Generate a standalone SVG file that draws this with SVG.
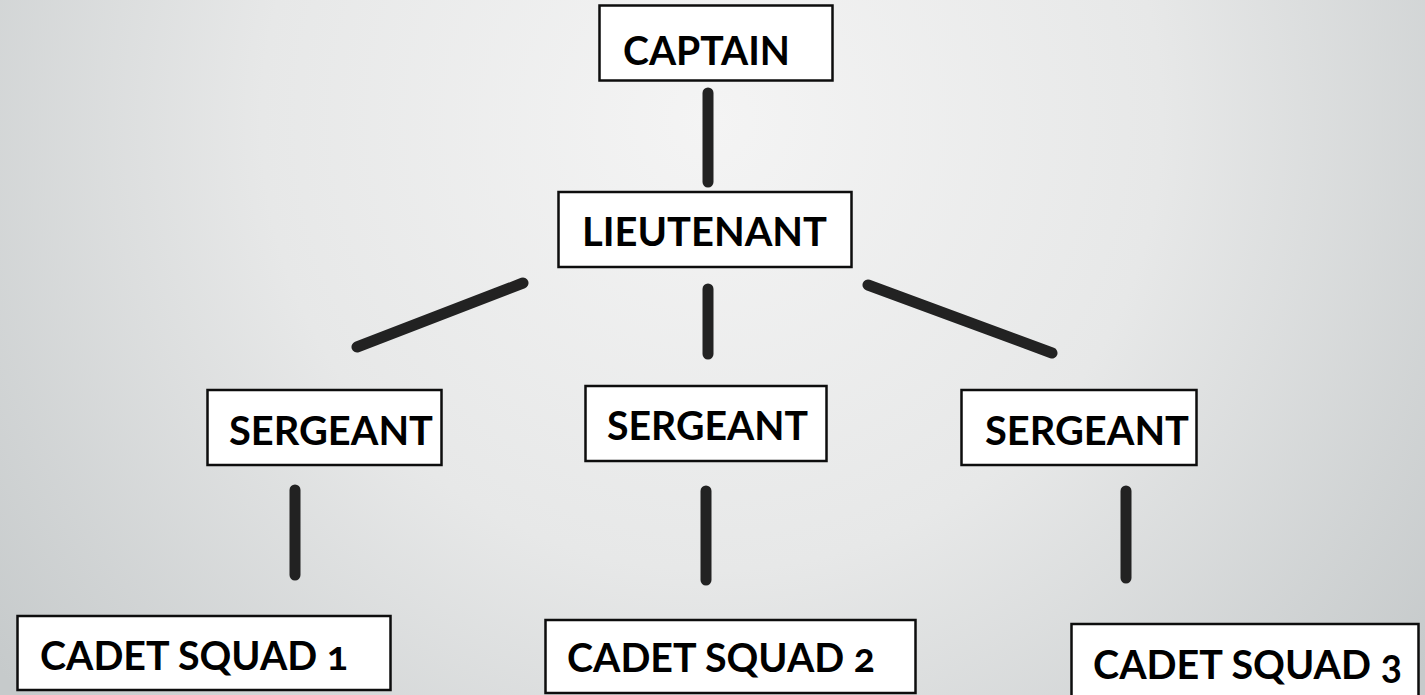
<svg xmlns="http://www.w3.org/2000/svg" width="1425" height="695" viewBox="0 0 1425 695">
<defs>
<radialGradient id="bg" gradientUnits="userSpaceOnUse" cx="712" cy="120" r="900" fx="712" fy="120">
<stop offset="0" stop-color="#f4f4f4"/>
<stop offset="0.5" stop-color="#e7e8e8"/>
<stop offset="1" stop-color="#c6cacb"/>
</radialGradient>
<style>
.box{fill:#ffffff;stroke:#0d0d0d;stroke-width:2.5}
.lbl{font-family:"Lato","Open Sans","Liberation Sans",sans-serif;font-weight:bold;font-size:40px;fill:#000;font-variant-numeric:oldstyle-nums}
.con{stroke:#222222;stroke-width:11;stroke-linecap:round;fill:none}
</style>
</defs>
<rect x="0" y="0" width="1425" height="695" fill="url(#bg)"/>
<g id="connectors">
<line class="con" x1="708" y1="93" x2="708" y2="182"/>
<line class="con" x1="357" y1="347" x2="523" y2="283"/>
<line class="con" x1="708" y1="289" x2="708" y2="354"/>
<line class="con" x1="868" y1="285" x2="1052" y2="353"/>
<line class="con" x1="295" y1="490" x2="295" y2="575"/>
<line class="con" x1="706" y1="491" x2="706" y2="580"/>
<line class="con" x1="1126" y1="491" x2="1126" y2="578"/>
</g>
<g id="captain">
<rect class="box" x="599.5" y="5.5" width="233" height="75"/>
<text class="lbl" x="623" y="65" textLength="167" lengthAdjust="spacingAndGlyphs">CAPTAIN</text>
</g>
<g id="lieutenant">
<rect class="box" x="558.5" y="192" width="293" height="75"/>
<text class="lbl" x="582" y="246" textLength="245" lengthAdjust="spacingAndGlyphs">LIEUTENANT</text>
</g>
<g id="sergeant1">
<rect class="box" x="207.5" y="390" width="234" height="75"/>
<text class="lbl" x="229" y="445" textLength="204" lengthAdjust="spacingAndGlyphs">SERGEANT</text>
</g>
<g id="sergeant2">
<rect class="box" x="585.5" y="386" width="241" height="75"/>
<text class="lbl" x="607" y="440" textLength="201" lengthAdjust="spacingAndGlyphs">SERGEANT</text>
</g>
<g id="sergeant3">
<rect class="box" x="961.5" y="390" width="235" height="75"/>
<text class="lbl" x="985" y="445" textLength="204" lengthAdjust="spacingAndGlyphs">SERGEANT</text>
</g>
<g id="cadet1">
<rect class="box" x="17.5" y="616" width="373" height="74"/>
<text class="lbl" x="40" y="670" textLength="308" lengthAdjust="spacingAndGlyphs">CADET SQUAD 1</text>
</g>
<g id="cadet2">
<rect class="box" x="545.5" y="620" width="370" height="73"/>
<text class="lbl" x="567" y="672" textLength="308" lengthAdjust="spacingAndGlyphs">CADET SQUAD 2</text>
</g>
<g id="cadet3">
<rect class="box" x="1071.5" y="624" width="347" height="80"/>
<text class="lbl" x="1093" y="679" textLength="309" lengthAdjust="spacingAndGlyphs">CADET SQUAD 3</text>
</g>
</svg>
